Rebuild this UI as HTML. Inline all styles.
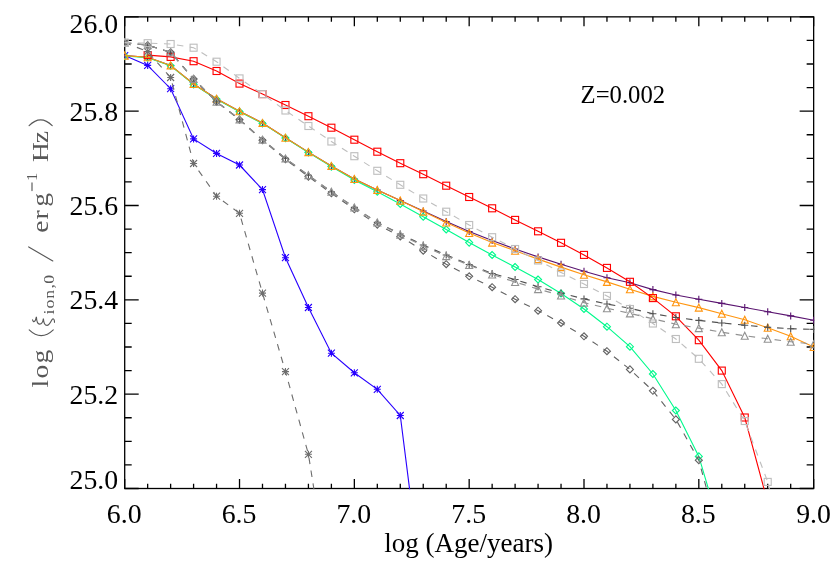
<!DOCTYPE html>
<html><head><meta charset="utf-8"><title>plot</title>
<style>
html,body{margin:0;padding:0;background:#fff;}
svg{display:block;font-family:"Liberation Serif",serif;}
</style></head>
<body>
<svg width="830" height="575" viewBox="0 0 830 575">
<rect width="830" height="575" fill="#fff"/>
<defs><clipPath id="c"><rect x="124.0" y="16.150000000000002" width="690.3499999999999" height="473.04999999999995"/></clipPath></defs>
<path d="M124.70 488.5v-9.5M124.70 16.85v9.5M147.66 488.5v-4.8M147.66 16.85v4.8M170.63 488.5v-4.8M170.63 16.85v4.8M193.59 488.5v-4.8M193.59 16.85v4.8M216.56 488.5v-4.8M216.56 16.85v4.8M239.52 488.5v-9.5M239.52 16.85v9.5M262.49 488.5v-4.8M262.49 16.85v4.8M285.46 488.5v-4.8M285.46 16.85v4.8M308.42 488.5v-4.8M308.42 16.85v4.8M331.39 488.5v-4.8M331.39 16.85v4.8M354.35 488.5v-9.5M354.35 16.85v9.5M377.31 488.5v-4.8M377.31 16.85v4.8M400.28 488.5v-4.8M400.28 16.85v4.8M423.24 488.5v-4.8M423.24 16.85v4.8M446.21 488.5v-4.8M446.21 16.85v4.8M469.17 488.5v-9.5M469.17 16.85v9.5M492.14 488.5v-4.8M492.14 16.85v4.8M515.11 488.5v-4.8M515.11 16.85v4.8M538.07 488.5v-4.8M538.07 16.85v4.8M561.04 488.5v-4.8M561.04 16.85v4.8M584.00 488.5v-9.5M584.00 16.85v9.5M606.96 488.5v-4.8M606.96 16.85v4.8M629.93 488.5v-4.8M629.93 16.85v4.8M652.90 488.5v-4.8M652.90 16.85v4.8M675.86 488.5v-4.8M675.86 16.85v4.8M698.82 488.5v-9.5M698.82 16.85v9.5M721.79 488.5v-4.8M721.79 16.85v4.8M744.75 488.5v-4.8M744.75 16.85v4.8M767.72 488.5v-4.8M767.72 16.85v4.8M790.69 488.5v-4.8M790.69 16.85v4.8M813.65 488.5v-9.5M813.65 16.85v9.5M124.7 16.85h14M813.65 16.85h-14M124.7 40.43h7M813.65 40.43h-7M124.7 64.02h7M813.65 64.02h-7M124.7 87.60h7M813.65 87.60h-7M124.7 111.18h14M813.65 111.18h-14M124.7 134.76h7M813.65 134.76h-7M124.7 158.34h7M813.65 158.34h-7M124.7 181.93h7M813.65 181.93h-7M124.7 205.51h14M813.65 205.51h-14M124.7 229.09h7M813.65 229.09h-7M124.7 252.67h7M813.65 252.67h-7M124.7 276.26h7M813.65 276.26h-7M124.7 299.84h14M813.65 299.84h-14M124.7 323.42h7M813.65 323.42h-7M124.7 347.00h7M813.65 347.00h-7M124.7 370.59h7M813.65 370.59h-7M124.7 394.17h14M813.65 394.17h-14M124.7 417.75h7M813.65 417.75h-7M124.7 441.33h7M813.65 441.33h-7M124.7 464.92h7M813.65 464.92h-7M124.7 488.50h14M813.65 488.50h-14" fill="none" stroke="#000" stroke-width="1.3"/>
<rect x="124.7" y="16.85" width="688.9499999999999" height="471.65" fill="none" stroke="#000" stroke-width="1.3"/>
<g clip-path="url(#c)">
<path d="M124.70 55.60L147.66 65.40L170.63 88.70L193.59 138.90L216.56 153.40L239.52 165.00L262.49 189.60L285.46 257.70L308.42 307.50L331.39 353.20L354.35 372.80L377.31 389.30L400.28 415.50L423.24 597.00" fill="none" stroke="#2800ff" stroke-width="1.12"/>
<path d="M121.20 55.60H128.20M124.70 52.10V59.10M121.20 52.10L128.20 59.10M121.20 59.10L128.20 52.10" fill="none" stroke="#2800ff" stroke-width="1.12"/>
<path d="M144.16 65.40H151.16M147.66 61.90V68.90M144.16 61.90L151.16 68.90M144.16 68.90L151.16 61.90" fill="none" stroke="#2800ff" stroke-width="1.12"/>
<path d="M167.13 88.70H174.13M170.63 85.20V92.20M167.13 85.20L174.13 92.20M167.13 92.20L174.13 85.20" fill="none" stroke="#2800ff" stroke-width="1.12"/>
<path d="M190.09 138.90H197.09M193.59 135.40V142.40M190.09 135.40L197.09 142.40M190.09 142.40L197.09 135.40" fill="none" stroke="#2800ff" stroke-width="1.12"/>
<path d="M213.06 153.40H220.06M216.56 149.90V156.90M213.06 149.90L220.06 156.90M213.06 156.90L220.06 149.90" fill="none" stroke="#2800ff" stroke-width="1.12"/>
<path d="M236.02 165.00H243.02M239.52 161.50V168.50M236.02 161.50L243.02 168.50M236.02 168.50L243.02 161.50" fill="none" stroke="#2800ff" stroke-width="1.12"/>
<path d="M258.99 189.60H265.99M262.49 186.10V193.10M258.99 186.10L265.99 193.10M258.99 193.10L265.99 186.10" fill="none" stroke="#2800ff" stroke-width="1.12"/>
<path d="M281.96 257.70H288.96M285.46 254.20V261.20M281.96 254.20L288.96 261.20M281.96 261.20L288.96 254.20" fill="none" stroke="#2800ff" stroke-width="1.12"/>
<path d="M304.92 307.50H311.92M308.42 304.00V311.00M304.92 304.00L311.92 311.00M304.92 311.00L311.92 304.00" fill="none" stroke="#2800ff" stroke-width="1.12"/>
<path d="M327.89 353.20H334.89M331.39 349.70V356.70M327.89 349.70L334.89 356.70M327.89 356.70L334.89 349.70" fill="none" stroke="#2800ff" stroke-width="1.12"/>
<path d="M350.85 372.80H357.85M354.35 369.30V376.30M350.85 369.30L357.85 376.30M350.85 376.30L357.85 369.30" fill="none" stroke="#2800ff" stroke-width="1.12"/>
<path d="M373.81 389.30H380.81M377.31 385.80V392.80M373.81 385.80L380.81 392.80M373.81 392.80L380.81 385.80" fill="none" stroke="#2800ff" stroke-width="1.12"/>
<path d="M396.78 415.50H403.78M400.28 412.00V419.00M396.78 412.00L403.78 419.00M396.78 419.00L403.78 412.00" fill="none" stroke="#2800ff" stroke-width="1.12"/>
<path d="M124.70 55.60L147.66 57.30L170.63 65.40L193.59 84.00L216.56 98.80L239.52 111.30L262.49 123.00L285.46 137.70L308.42 152.10L331.39 166.00L354.35 179.00L377.31 190.00L400.28 200.60L423.24 211.00L446.21 221.50L469.17 231.50L492.14 240.60L515.11 249.00L538.07 256.90L561.04 264.20L584.00 271.30L606.96 277.70L629.93 282.80L652.90 289.60L675.86 295.00L698.82 299.20L721.79 303.40L744.75 307.50L767.72 311.70L790.69 315.90L813.65 320.30" fill="none" stroke="#5a1470" stroke-width="1.12"/>
<path d="M121.20 55.60H128.20M124.70 52.10V59.10" fill="none" stroke="#5a1470" stroke-width="1.12"/>
<path d="M144.16 57.30H151.16M147.66 53.80V60.80" fill="none" stroke="#5a1470" stroke-width="1.12"/>
<path d="M167.13 65.40H174.13M170.63 61.90V68.90" fill="none" stroke="#5a1470" stroke-width="1.12"/>
<path d="M190.09 84.00H197.09M193.59 80.50V87.50" fill="none" stroke="#5a1470" stroke-width="1.12"/>
<path d="M213.06 98.80H220.06M216.56 95.30V102.30" fill="none" stroke="#5a1470" stroke-width="1.12"/>
<path d="M236.02 111.30H243.02M239.52 107.80V114.80" fill="none" stroke="#5a1470" stroke-width="1.12"/>
<path d="M258.99 123.00H265.99M262.49 119.50V126.50" fill="none" stroke="#5a1470" stroke-width="1.12"/>
<path d="M281.96 137.70H288.96M285.46 134.20V141.20" fill="none" stroke="#5a1470" stroke-width="1.12"/>
<path d="M304.92 152.10H311.92M308.42 148.60V155.60" fill="none" stroke="#5a1470" stroke-width="1.12"/>
<path d="M327.89 166.00H334.89M331.39 162.50V169.50" fill="none" stroke="#5a1470" stroke-width="1.12"/>
<path d="M350.85 179.00H357.85M354.35 175.50V182.50" fill="none" stroke="#5a1470" stroke-width="1.12"/>
<path d="M373.81 190.00H380.81M377.31 186.50V193.50" fill="none" stroke="#5a1470" stroke-width="1.12"/>
<path d="M396.78 200.60H403.78M400.28 197.10V204.10" fill="none" stroke="#5a1470" stroke-width="1.12"/>
<path d="M419.74 211.00H426.74M423.24 207.50V214.50" fill="none" stroke="#5a1470" stroke-width="1.12"/>
<path d="M442.71 221.50H449.71M446.21 218.00V225.00" fill="none" stroke="#5a1470" stroke-width="1.12"/>
<path d="M465.67 231.50H472.67M469.17 228.00V235.00" fill="none" stroke="#5a1470" stroke-width="1.12"/>
<path d="M488.64 240.60H495.64M492.14 237.10V244.10" fill="none" stroke="#5a1470" stroke-width="1.12"/>
<path d="M511.61 249.00H518.61M515.11 245.50V252.50" fill="none" stroke="#5a1470" stroke-width="1.12"/>
<path d="M534.57 256.90H541.57M538.07 253.40V260.40" fill="none" stroke="#5a1470" stroke-width="1.12"/>
<path d="M557.54 264.20H564.54M561.04 260.70V267.70" fill="none" stroke="#5a1470" stroke-width="1.12"/>
<path d="M580.50 271.30H587.50M584.00 267.80V274.80" fill="none" stroke="#5a1470" stroke-width="1.12"/>
<path d="M603.46 277.70H610.46M606.96 274.20V281.20" fill="none" stroke="#5a1470" stroke-width="1.12"/>
<path d="M626.43 282.80H633.43M629.93 279.30V286.30" fill="none" stroke="#5a1470" stroke-width="1.12"/>
<path d="M649.40 289.60H656.40M652.90 286.10V293.10" fill="none" stroke="#5a1470" stroke-width="1.12"/>
<path d="M672.36 295.00H679.36M675.86 291.50V298.50" fill="none" stroke="#5a1470" stroke-width="1.12"/>
<path d="M695.32 299.20H702.32M698.82 295.70V302.70" fill="none" stroke="#5a1470" stroke-width="1.12"/>
<path d="M718.29 303.40H725.29M721.79 299.90V306.90" fill="none" stroke="#5a1470" stroke-width="1.12"/>
<path d="M741.25 307.50H748.25M744.75 304.00V311.00" fill="none" stroke="#5a1470" stroke-width="1.12"/>
<path d="M764.22 311.70H771.22M767.72 308.20V315.20" fill="none" stroke="#5a1470" stroke-width="1.12"/>
<path d="M787.19 315.90H794.19M790.69 312.40V319.40" fill="none" stroke="#5a1470" stroke-width="1.12"/>
<path d="M810.15 320.30H817.15M813.65 316.80V323.80" fill="none" stroke="#5a1470" stroke-width="1.12"/>
<path d="M124.70 56.00L147.66 57.70L170.63 65.80L193.59 84.40L216.56 99.20L239.52 111.70L262.49 123.40L285.46 138.10L308.42 152.50L331.39 166.60L354.35 179.90L377.31 191.70L400.28 204.00L423.24 216.70L446.21 229.50L469.17 242.60L492.14 255.00L515.11 267.00L538.07 279.50L561.04 293.50L584.00 309.00L606.96 326.70L629.93 346.70L652.90 374.00L675.86 410.50L698.82 456.40L721.79 534.00" fill="none" stroke="#00fa8c" stroke-width="1.12"/>
<path d="M124.70 52.50L121.20 56.00L124.70 59.50L128.20 56.00Z" fill="none" stroke="#00fa8c" stroke-width="1.12"/>
<path d="M147.66 54.20L144.16 57.70L147.66 61.20L151.16 57.70Z" fill="none" stroke="#00fa8c" stroke-width="1.12"/>
<path d="M170.63 62.30L167.13 65.80L170.63 69.30L174.13 65.80Z" fill="none" stroke="#00fa8c" stroke-width="1.12"/>
<path d="M193.59 80.90L190.09 84.40L193.59 87.90L197.09 84.40Z" fill="none" stroke="#00fa8c" stroke-width="1.12"/>
<path d="M216.56 95.70L213.06 99.20L216.56 102.70L220.06 99.20Z" fill="none" stroke="#00fa8c" stroke-width="1.12"/>
<path d="M239.52 108.20L236.02 111.70L239.52 115.20L243.02 111.70Z" fill="none" stroke="#00fa8c" stroke-width="1.12"/>
<path d="M262.49 119.90L258.99 123.40L262.49 126.90L265.99 123.40Z" fill="none" stroke="#00fa8c" stroke-width="1.12"/>
<path d="M285.46 134.60L281.96 138.10L285.46 141.60L288.96 138.10Z" fill="none" stroke="#00fa8c" stroke-width="1.12"/>
<path d="M308.42 149.00L304.92 152.50L308.42 156.00L311.92 152.50Z" fill="none" stroke="#00fa8c" stroke-width="1.12"/>
<path d="M331.39 163.10L327.89 166.60L331.39 170.10L334.89 166.60Z" fill="none" stroke="#00fa8c" stroke-width="1.12"/>
<path d="M354.35 176.40L350.85 179.90L354.35 183.40L357.85 179.90Z" fill="none" stroke="#00fa8c" stroke-width="1.12"/>
<path d="M377.31 188.20L373.81 191.70L377.31 195.20L380.81 191.70Z" fill="none" stroke="#00fa8c" stroke-width="1.12"/>
<path d="M400.28 200.50L396.78 204.00L400.28 207.50L403.78 204.00Z" fill="none" stroke="#00fa8c" stroke-width="1.12"/>
<path d="M423.24 213.20L419.74 216.70L423.24 220.20L426.74 216.70Z" fill="none" stroke="#00fa8c" stroke-width="1.12"/>
<path d="M446.21 226.00L442.71 229.50L446.21 233.00L449.71 229.50Z" fill="none" stroke="#00fa8c" stroke-width="1.12"/>
<path d="M469.17 239.10L465.67 242.60L469.17 246.10L472.67 242.60Z" fill="none" stroke="#00fa8c" stroke-width="1.12"/>
<path d="M492.14 251.50L488.64 255.00L492.14 258.50L495.64 255.00Z" fill="none" stroke="#00fa8c" stroke-width="1.12"/>
<path d="M515.11 263.50L511.61 267.00L515.11 270.50L518.61 267.00Z" fill="none" stroke="#00fa8c" stroke-width="1.12"/>
<path d="M538.07 276.00L534.57 279.50L538.07 283.00L541.57 279.50Z" fill="none" stroke="#00fa8c" stroke-width="1.12"/>
<path d="M561.04 290.00L557.54 293.50L561.04 297.00L564.54 293.50Z" fill="none" stroke="#00fa8c" stroke-width="1.12"/>
<path d="M584.00 305.50L580.50 309.00L584.00 312.50L587.50 309.00Z" fill="none" stroke="#00fa8c" stroke-width="1.12"/>
<path d="M606.96 323.20L603.46 326.70L606.96 330.20L610.46 326.70Z" fill="none" stroke="#00fa8c" stroke-width="1.12"/>
<path d="M629.93 343.20L626.43 346.70L629.93 350.20L633.43 346.70Z" fill="none" stroke="#00fa8c" stroke-width="1.12"/>
<path d="M652.90 370.50L649.40 374.00L652.90 377.50L656.40 374.00Z" fill="none" stroke="#00fa8c" stroke-width="1.12"/>
<path d="M675.86 407.00L672.36 410.50L675.86 414.00L679.36 410.50Z" fill="none" stroke="#00fa8c" stroke-width="1.12"/>
<path d="M698.82 452.90L695.32 456.40L698.82 459.90L702.32 456.40Z" fill="none" stroke="#00fa8c" stroke-width="1.12"/>
<path d="M124.70 55.60L147.66 57.30L170.63 65.40L193.59 84.00L216.56 98.80L239.52 111.30L262.49 123.00L285.46 137.70L308.42 152.10L331.39 166.00L354.35 179.00L377.31 190.00L400.28 200.60L423.24 211.60L446.21 222.50L469.17 233.00L492.14 242.60L515.11 250.70L538.07 259.10L561.04 267.10L584.00 274.80L606.96 281.90L629.93 289.30L652.90 296.40L675.86 302.30L698.82 307.60L721.79 313.70L744.75 319.70L767.72 327.80L790.69 336.30L813.65 347.00" fill="none" stroke="#ff9510" stroke-width="1.12"/>
<path d="M124.70 52.10L121.20 59.10L128.20 59.10Z" fill="none" stroke="#ff9510" stroke-width="1.12"/>
<path d="M147.66 53.80L144.16 60.80L151.16 60.80Z" fill="none" stroke="#ff9510" stroke-width="1.12"/>
<path d="M170.63 61.90L167.13 68.90L174.13 68.90Z" fill="none" stroke="#ff9510" stroke-width="1.12"/>
<path d="M193.59 80.50L190.09 87.50L197.09 87.50Z" fill="none" stroke="#ff9510" stroke-width="1.12"/>
<path d="M216.56 95.30L213.06 102.30L220.06 102.30Z" fill="none" stroke="#ff9510" stroke-width="1.12"/>
<path d="M239.52 107.80L236.02 114.80L243.02 114.80Z" fill="none" stroke="#ff9510" stroke-width="1.12"/>
<path d="M262.49 119.50L258.99 126.50L265.99 126.50Z" fill="none" stroke="#ff9510" stroke-width="1.12"/>
<path d="M285.46 134.20L281.96 141.20L288.96 141.20Z" fill="none" stroke="#ff9510" stroke-width="1.12"/>
<path d="M308.42 148.60L304.92 155.60L311.92 155.60Z" fill="none" stroke="#ff9510" stroke-width="1.12"/>
<path d="M331.39 162.50L327.89 169.50L334.89 169.50Z" fill="none" stroke="#ff9510" stroke-width="1.12"/>
<path d="M354.35 175.50L350.85 182.50L357.85 182.50Z" fill="none" stroke="#ff9510" stroke-width="1.12"/>
<path d="M377.31 186.50L373.81 193.50L380.81 193.50Z" fill="none" stroke="#ff9510" stroke-width="1.12"/>
<path d="M400.28 197.10L396.78 204.10L403.78 204.10Z" fill="none" stroke="#ff9510" stroke-width="1.12"/>
<path d="M423.24 208.10L419.74 215.10L426.74 215.10Z" fill="none" stroke="#ff9510" stroke-width="1.12"/>
<path d="M446.21 219.00L442.71 226.00L449.71 226.00Z" fill="none" stroke="#ff9510" stroke-width="1.12"/>
<path d="M469.17 229.50L465.67 236.50L472.67 236.50Z" fill="none" stroke="#ff9510" stroke-width="1.12"/>
<path d="M492.14 239.10L488.64 246.10L495.64 246.10Z" fill="none" stroke="#ff9510" stroke-width="1.12"/>
<path d="M515.11 247.20L511.61 254.20L518.61 254.20Z" fill="none" stroke="#ff9510" stroke-width="1.12"/>
<path d="M538.07 255.60L534.57 262.60L541.57 262.60Z" fill="none" stroke="#ff9510" stroke-width="1.12"/>
<path d="M561.04 263.60L557.54 270.60L564.54 270.60Z" fill="none" stroke="#ff9510" stroke-width="1.12"/>
<path d="M584.00 271.30L580.50 278.30L587.50 278.30Z" fill="none" stroke="#ff9510" stroke-width="1.12"/>
<path d="M606.96 278.40L603.46 285.40L610.46 285.40Z" fill="none" stroke="#ff9510" stroke-width="1.12"/>
<path d="M629.93 285.80L626.43 292.80L633.43 292.80Z" fill="none" stroke="#ff9510" stroke-width="1.12"/>
<path d="M652.90 292.90L649.40 299.90L656.40 299.90Z" fill="none" stroke="#ff9510" stroke-width="1.12"/>
<path d="M675.86 298.80L672.36 305.80L679.36 305.80Z" fill="none" stroke="#ff9510" stroke-width="1.12"/>
<path d="M698.82 304.10L695.32 311.10L702.32 311.10Z" fill="none" stroke="#ff9510" stroke-width="1.12"/>
<path d="M721.79 310.20L718.29 317.20L725.29 317.20Z" fill="none" stroke="#ff9510" stroke-width="1.12"/>
<path d="M744.75 316.20L741.25 323.20L748.25 323.20Z" fill="none" stroke="#ff9510" stroke-width="1.12"/>
<path d="M767.72 324.30L764.22 331.30L771.22 331.30Z" fill="none" stroke="#ff9510" stroke-width="1.12"/>
<path d="M790.69 332.80L787.19 339.80L794.19 339.80Z" fill="none" stroke="#ff9510" stroke-width="1.12"/>
<path d="M813.65 343.50L810.15 350.50L817.15 350.50Z" fill="none" stroke="#ff9510" stroke-width="1.12"/>
<path d="M147.66 55.10L170.63 56.90L193.59 61.20L216.56 71.00L239.52 83.60L262.49 94.10L285.46 105.00L308.42 116.20L331.39 127.70L354.35 139.70L377.31 151.70L400.28 163.20L423.24 174.20L446.21 185.70L469.17 197.00L492.14 208.30L515.11 219.90L538.07 231.30L561.04 242.80L584.00 254.90L606.96 267.90L629.93 281.80L652.90 298.10L675.86 316.30L698.82 340.20L721.79 370.60L744.75 417.50L767.72 502.50" fill="none" stroke="#ff0000" stroke-width="1.12"/>
<rect x="144.16" y="51.60" width="7.00" height="7.00" fill="none" stroke="#ff0000" stroke-width="1.12"/>
<rect x="167.13" y="53.40" width="7.00" height="7.00" fill="none" stroke="#ff0000" stroke-width="1.12"/>
<rect x="190.09" y="57.70" width="7.00" height="7.00" fill="none" stroke="#ff0000" stroke-width="1.12"/>
<rect x="213.06" y="67.50" width="7.00" height="7.00" fill="none" stroke="#ff0000" stroke-width="1.12"/>
<rect x="236.02" y="80.10" width="7.00" height="7.00" fill="none" stroke="#ff0000" stroke-width="1.12"/>
<rect x="258.99" y="90.60" width="7.00" height="7.00" fill="none" stroke="#ff0000" stroke-width="1.12"/>
<rect x="281.96" y="101.50" width="7.00" height="7.00" fill="none" stroke="#ff0000" stroke-width="1.12"/>
<rect x="304.92" y="112.70" width="7.00" height="7.00" fill="none" stroke="#ff0000" stroke-width="1.12"/>
<rect x="327.89" y="124.20" width="7.00" height="7.00" fill="none" stroke="#ff0000" stroke-width="1.12"/>
<rect x="350.85" y="136.20" width="7.00" height="7.00" fill="none" stroke="#ff0000" stroke-width="1.12"/>
<rect x="373.81" y="148.20" width="7.00" height="7.00" fill="none" stroke="#ff0000" stroke-width="1.12"/>
<rect x="396.78" y="159.70" width="7.00" height="7.00" fill="none" stroke="#ff0000" stroke-width="1.12"/>
<rect x="419.74" y="170.70" width="7.00" height="7.00" fill="none" stroke="#ff0000" stroke-width="1.12"/>
<rect x="442.71" y="182.20" width="7.00" height="7.00" fill="none" stroke="#ff0000" stroke-width="1.12"/>
<rect x="465.67" y="193.50" width="7.00" height="7.00" fill="none" stroke="#ff0000" stroke-width="1.12"/>
<rect x="488.64" y="204.80" width="7.00" height="7.00" fill="none" stroke="#ff0000" stroke-width="1.12"/>
<rect x="511.61" y="216.40" width="7.00" height="7.00" fill="none" stroke="#ff0000" stroke-width="1.12"/>
<rect x="534.57" y="227.80" width="7.00" height="7.00" fill="none" stroke="#ff0000" stroke-width="1.12"/>
<rect x="557.54" y="239.30" width="7.00" height="7.00" fill="none" stroke="#ff0000" stroke-width="1.12"/>
<rect x="580.50" y="251.40" width="7.00" height="7.00" fill="none" stroke="#ff0000" stroke-width="1.12"/>
<rect x="603.46" y="264.40" width="7.00" height="7.00" fill="none" stroke="#ff0000" stroke-width="1.12"/>
<rect x="626.43" y="278.30" width="7.00" height="7.00" fill="none" stroke="#ff0000" stroke-width="1.12"/>
<rect x="649.40" y="294.60" width="7.00" height="7.00" fill="none" stroke="#ff0000" stroke-width="1.12"/>
<rect x="672.36" y="312.80" width="7.00" height="7.00" fill="none" stroke="#ff0000" stroke-width="1.12"/>
<rect x="695.32" y="336.70" width="7.00" height="7.00" fill="none" stroke="#ff0000" stroke-width="1.12"/>
<rect x="718.29" y="367.10" width="7.00" height="7.00" fill="none" stroke="#ff0000" stroke-width="1.12"/>
<rect x="741.25" y="414.00" width="7.00" height="7.00" fill="none" stroke="#ff0000" stroke-width="1.12"/>
<path d="M124.70 42.60L147.66 51.60L170.63 77.50L193.59 163.50L216.56 196.20L239.52 213.30L262.49 293.10L285.46 371.60L308.42 454.30L331.39 600.00" fill="none" stroke="#6e6e6e" stroke-width="1.12" stroke-dasharray="6.54 6.54"/>
<path d="M121.20 42.60H128.20M124.70 39.10V46.10M121.20 39.10L128.20 46.10M121.20 46.10L128.20 39.10" fill="none" stroke="#6e6e6e" stroke-width="1.12"/>
<path d="M144.16 51.60H151.16M147.66 48.10V55.10M144.16 48.10L151.16 55.10M144.16 55.10L151.16 48.10" fill="none" stroke="#6e6e6e" stroke-width="1.12"/>
<path d="M167.13 77.50H174.13M170.63 74.00V81.00M167.13 74.00L174.13 81.00M167.13 81.00L174.13 74.00" fill="none" stroke="#6e6e6e" stroke-width="1.12"/>
<path d="M190.09 163.50H197.09M193.59 160.00V167.00M190.09 160.00L197.09 167.00M190.09 167.00L197.09 160.00" fill="none" stroke="#6e6e6e" stroke-width="1.12"/>
<path d="M213.06 196.20H220.06M216.56 192.70V199.70M213.06 192.70L220.06 199.70M213.06 199.70L220.06 192.70" fill="none" stroke="#6e6e6e" stroke-width="1.12"/>
<path d="M236.02 213.30H243.02M239.52 209.80V216.80M236.02 209.80L243.02 216.80M236.02 216.80L243.02 209.80" fill="none" stroke="#6e6e6e" stroke-width="1.12"/>
<path d="M258.99 293.10H265.99M262.49 289.60V296.60M258.99 289.60L265.99 296.60M258.99 296.60L265.99 289.60" fill="none" stroke="#6e6e6e" stroke-width="1.12"/>
<path d="M281.96 371.60H288.96M285.46 368.10V375.10M281.96 368.10L288.96 375.10M281.96 375.10L288.96 368.10" fill="none" stroke="#6e6e6e" stroke-width="1.12"/>
<path d="M304.92 454.30H311.92M308.42 450.80V457.80M304.92 450.80L311.92 457.80M304.92 457.80L311.92 450.80" fill="none" stroke="#6e6e6e" stroke-width="1.12"/>
<path d="M124.70 42.60L147.66 45.20L170.63 52.30L193.59 78.90L216.56 101.70L239.52 119.40L262.49 139.70L285.46 158.40L308.42 175.30L331.39 191.70L354.35 207.40L377.31 222.40L400.28 234.00L423.24 245.00L446.21 255.00L469.17 264.50L492.14 273.50L515.11 279.50L538.07 286.80L561.04 293.00L584.00 298.90L606.96 304.00L629.93 308.30L652.90 313.70L675.86 317.50L698.82 320.40L721.79 323.00L744.75 325.20L767.72 327.30L790.69 328.70L813.65 329.40" fill="none" stroke="#505050" stroke-width="1.12" stroke-dasharray="6.54 6.54"/>
<path d="M121.20 42.60H128.20M124.70 39.10V46.10" fill="none" stroke="#505050" stroke-width="1.12"/>
<path d="M144.16 45.20H151.16M147.66 41.70V48.70" fill="none" stroke="#505050" stroke-width="1.12"/>
<path d="M167.13 52.30H174.13M170.63 48.80V55.80" fill="none" stroke="#505050" stroke-width="1.12"/>
<path d="M190.09 78.90H197.09M193.59 75.40V82.40" fill="none" stroke="#505050" stroke-width="1.12"/>
<path d="M213.06 101.70H220.06M216.56 98.20V105.20" fill="none" stroke="#505050" stroke-width="1.12"/>
<path d="M236.02 119.40H243.02M239.52 115.90V122.90" fill="none" stroke="#505050" stroke-width="1.12"/>
<path d="M258.99 139.70H265.99M262.49 136.20V143.20" fill="none" stroke="#505050" stroke-width="1.12"/>
<path d="M281.96 158.40H288.96M285.46 154.90V161.90" fill="none" stroke="#505050" stroke-width="1.12"/>
<path d="M304.92 175.30H311.92M308.42 171.80V178.80" fill="none" stroke="#505050" stroke-width="1.12"/>
<path d="M327.89 191.70H334.89M331.39 188.20V195.20" fill="none" stroke="#505050" stroke-width="1.12"/>
<path d="M350.85 207.40H357.85M354.35 203.90V210.90" fill="none" stroke="#505050" stroke-width="1.12"/>
<path d="M373.81 222.40H380.81M377.31 218.90V225.90" fill="none" stroke="#505050" stroke-width="1.12"/>
<path d="M396.78 234.00H403.78M400.28 230.50V237.50" fill="none" stroke="#505050" stroke-width="1.12"/>
<path d="M419.74 245.00H426.74M423.24 241.50V248.50" fill="none" stroke="#505050" stroke-width="1.12"/>
<path d="M442.71 255.00H449.71M446.21 251.50V258.50" fill="none" stroke="#505050" stroke-width="1.12"/>
<path d="M465.67 264.50H472.67M469.17 261.00V268.00" fill="none" stroke="#505050" stroke-width="1.12"/>
<path d="M488.64 273.50H495.64M492.14 270.00V277.00" fill="none" stroke="#505050" stroke-width="1.12"/>
<path d="M511.61 279.50H518.61M515.11 276.00V283.00" fill="none" stroke="#505050" stroke-width="1.12"/>
<path d="M534.57 286.80H541.57M538.07 283.30V290.30" fill="none" stroke="#505050" stroke-width="1.12"/>
<path d="M557.54 293.00H564.54M561.04 289.50V296.50" fill="none" stroke="#505050" stroke-width="1.12"/>
<path d="M580.50 298.90H587.50M584.00 295.40V302.40" fill="none" stroke="#505050" stroke-width="1.12"/>
<path d="M603.46 304.00H610.46M606.96 300.50V307.50" fill="none" stroke="#505050" stroke-width="1.12"/>
<path d="M626.43 308.30H633.43M629.93 304.80V311.80" fill="none" stroke="#505050" stroke-width="1.12"/>
<path d="M649.40 313.70H656.40M652.90 310.20V317.20" fill="none" stroke="#505050" stroke-width="1.12"/>
<path d="M672.36 317.50H679.36M675.86 314.00V321.00" fill="none" stroke="#505050" stroke-width="1.12"/>
<path d="M695.32 320.40H702.32M698.82 316.90V323.90" fill="none" stroke="#505050" stroke-width="1.12"/>
<path d="M718.29 323.00H725.29M721.79 319.50V326.50" fill="none" stroke="#505050" stroke-width="1.12"/>
<path d="M741.25 325.20H748.25M744.75 321.70V328.70" fill="none" stroke="#505050" stroke-width="1.12"/>
<path d="M764.22 327.30H771.22M767.72 323.80V330.80" fill="none" stroke="#505050" stroke-width="1.12"/>
<path d="M787.19 328.70H794.19M790.69 325.20V332.20" fill="none" stroke="#505050" stroke-width="1.12"/>
<path d="M810.15 329.40H817.15M813.65 325.90V332.90" fill="none" stroke="#505050" stroke-width="1.12"/>
<path d="M124.70 42.60L147.66 45.20L170.63 52.30L193.59 78.90L216.56 101.70L239.52 119.70L262.49 140.30L285.46 159.30L308.42 176.60L331.39 193.30L354.35 209.30L377.31 224.60L400.28 236.40L423.24 250.70L446.21 264.20L469.17 276.30L492.14 287.20L515.11 299.20L538.07 310.70L561.04 323.00L584.00 336.30L606.96 351.20L629.93 369.40L652.90 390.80L675.86 419.40L698.82 460.20L721.79 545.00" fill="none" stroke="#636363" stroke-width="1.12" stroke-dasharray="6.54 6.54"/>
<path d="M124.70 39.10L121.20 42.60L124.70 46.10L128.20 42.60Z" fill="none" stroke="#636363" stroke-width="1.12"/>
<path d="M147.66 41.70L144.16 45.20L147.66 48.70L151.16 45.20Z" fill="none" stroke="#636363" stroke-width="1.12"/>
<path d="M170.63 48.80L167.13 52.30L170.63 55.80L174.13 52.30Z" fill="none" stroke="#636363" stroke-width="1.12"/>
<path d="M193.59 75.40L190.09 78.90L193.59 82.40L197.09 78.90Z" fill="none" stroke="#636363" stroke-width="1.12"/>
<path d="M216.56 98.20L213.06 101.70L216.56 105.20L220.06 101.70Z" fill="none" stroke="#636363" stroke-width="1.12"/>
<path d="M239.52 116.20L236.02 119.70L239.52 123.20L243.02 119.70Z" fill="none" stroke="#636363" stroke-width="1.12"/>
<path d="M262.49 136.80L258.99 140.30L262.49 143.80L265.99 140.30Z" fill="none" stroke="#636363" stroke-width="1.12"/>
<path d="M285.46 155.80L281.96 159.30L285.46 162.80L288.96 159.30Z" fill="none" stroke="#636363" stroke-width="1.12"/>
<path d="M308.42 173.10L304.92 176.60L308.42 180.10L311.92 176.60Z" fill="none" stroke="#636363" stroke-width="1.12"/>
<path d="M331.39 189.80L327.89 193.30L331.39 196.80L334.89 193.30Z" fill="none" stroke="#636363" stroke-width="1.12"/>
<path d="M354.35 205.80L350.85 209.30L354.35 212.80L357.85 209.30Z" fill="none" stroke="#636363" stroke-width="1.12"/>
<path d="M377.31 221.10L373.81 224.60L377.31 228.10L380.81 224.60Z" fill="none" stroke="#636363" stroke-width="1.12"/>
<path d="M400.28 232.90L396.78 236.40L400.28 239.90L403.78 236.40Z" fill="none" stroke="#636363" stroke-width="1.12"/>
<path d="M423.24 247.20L419.74 250.70L423.24 254.20L426.74 250.70Z" fill="none" stroke="#636363" stroke-width="1.12"/>
<path d="M446.21 260.70L442.71 264.20L446.21 267.70L449.71 264.20Z" fill="none" stroke="#636363" stroke-width="1.12"/>
<path d="M469.17 272.80L465.67 276.30L469.17 279.80L472.67 276.30Z" fill="none" stroke="#636363" stroke-width="1.12"/>
<path d="M492.14 283.70L488.64 287.20L492.14 290.70L495.64 287.20Z" fill="none" stroke="#636363" stroke-width="1.12"/>
<path d="M515.11 295.70L511.61 299.20L515.11 302.70L518.61 299.20Z" fill="none" stroke="#636363" stroke-width="1.12"/>
<path d="M538.07 307.20L534.57 310.70L538.07 314.20L541.57 310.70Z" fill="none" stroke="#636363" stroke-width="1.12"/>
<path d="M561.04 319.50L557.54 323.00L561.04 326.50L564.54 323.00Z" fill="none" stroke="#636363" stroke-width="1.12"/>
<path d="M584.00 332.80L580.50 336.30L584.00 339.80L587.50 336.30Z" fill="none" stroke="#636363" stroke-width="1.12"/>
<path d="M606.96 347.70L603.46 351.20L606.96 354.70L610.46 351.20Z" fill="none" stroke="#636363" stroke-width="1.12"/>
<path d="M629.93 365.90L626.43 369.40L629.93 372.90L633.43 369.40Z" fill="none" stroke="#636363" stroke-width="1.12"/>
<path d="M652.90 387.30L649.40 390.80L652.90 394.30L656.40 390.80Z" fill="none" stroke="#636363" stroke-width="1.12"/>
<path d="M675.86 415.90L672.36 419.40L675.86 422.90L679.36 419.40Z" fill="none" stroke="#636363" stroke-width="1.12"/>
<path d="M698.82 456.70L695.32 460.20L698.82 463.70L702.32 460.20Z" fill="none" stroke="#636363" stroke-width="1.12"/>
<path d="M124.70 42.60L147.66 45.20L170.63 52.30L193.59 78.90L216.56 101.70L239.52 119.40L262.49 139.70L285.46 158.40L308.42 175.30L331.39 191.70L354.35 207.40L377.31 222.40L400.28 234.70L423.24 246.00L446.21 256.10L469.17 265.00L492.14 274.50L515.11 282.00L538.07 289.10L561.04 295.50L584.00 302.60L606.96 308.20L629.93 313.40L652.90 318.80L675.86 324.20L698.82 328.10L721.79 332.20L744.75 335.80L767.72 338.80L790.69 341.70L813.65 344.20" fill="none" stroke="#929292" stroke-width="1.12" stroke-dasharray="6.54 6.54"/>
<path d="M124.70 39.10L121.20 46.10L128.20 46.10Z" fill="none" stroke="#929292" stroke-width="1.12"/>
<path d="M147.66 41.70L144.16 48.70L151.16 48.70Z" fill="none" stroke="#929292" stroke-width="1.12"/>
<path d="M170.63 48.80L167.13 55.80L174.13 55.80Z" fill="none" stroke="#929292" stroke-width="1.12"/>
<path d="M193.59 75.40L190.09 82.40L197.09 82.40Z" fill="none" stroke="#929292" stroke-width="1.12"/>
<path d="M216.56 98.20L213.06 105.20L220.06 105.20Z" fill="none" stroke="#929292" stroke-width="1.12"/>
<path d="M239.52 115.90L236.02 122.90L243.02 122.90Z" fill="none" stroke="#929292" stroke-width="1.12"/>
<path d="M262.49 136.20L258.99 143.20L265.99 143.20Z" fill="none" stroke="#929292" stroke-width="1.12"/>
<path d="M285.46 154.90L281.96 161.90L288.96 161.90Z" fill="none" stroke="#929292" stroke-width="1.12"/>
<path d="M308.42 171.80L304.92 178.80L311.92 178.80Z" fill="none" stroke="#929292" stroke-width="1.12"/>
<path d="M331.39 188.20L327.89 195.20L334.89 195.20Z" fill="none" stroke="#929292" stroke-width="1.12"/>
<path d="M354.35 203.90L350.85 210.90L357.85 210.90Z" fill="none" stroke="#929292" stroke-width="1.12"/>
<path d="M377.31 218.90L373.81 225.90L380.81 225.90Z" fill="none" stroke="#929292" stroke-width="1.12"/>
<path d="M400.28 231.20L396.78 238.20L403.78 238.20Z" fill="none" stroke="#929292" stroke-width="1.12"/>
<path d="M423.24 242.50L419.74 249.50L426.74 249.50Z" fill="none" stroke="#929292" stroke-width="1.12"/>
<path d="M446.21 252.60L442.71 259.60L449.71 259.60Z" fill="none" stroke="#929292" stroke-width="1.12"/>
<path d="M469.17 261.50L465.67 268.50L472.67 268.50Z" fill="none" stroke="#929292" stroke-width="1.12"/>
<path d="M492.14 271.00L488.64 278.00L495.64 278.00Z" fill="none" stroke="#929292" stroke-width="1.12"/>
<path d="M515.11 278.50L511.61 285.50L518.61 285.50Z" fill="none" stroke="#929292" stroke-width="1.12"/>
<path d="M538.07 285.60L534.57 292.60L541.57 292.60Z" fill="none" stroke="#929292" stroke-width="1.12"/>
<path d="M561.04 292.00L557.54 299.00L564.54 299.00Z" fill="none" stroke="#929292" stroke-width="1.12"/>
<path d="M584.00 299.10L580.50 306.10L587.50 306.10Z" fill="none" stroke="#929292" stroke-width="1.12"/>
<path d="M606.96 304.70L603.46 311.70L610.46 311.70Z" fill="none" stroke="#929292" stroke-width="1.12"/>
<path d="M629.93 309.90L626.43 316.90L633.43 316.90Z" fill="none" stroke="#929292" stroke-width="1.12"/>
<path d="M652.90 315.30L649.40 322.30L656.40 322.30Z" fill="none" stroke="#929292" stroke-width="1.12"/>
<path d="M675.86 320.70L672.36 327.70L679.36 327.70Z" fill="none" stroke="#929292" stroke-width="1.12"/>
<path d="M698.82 324.60L695.32 331.60L702.32 331.60Z" fill="none" stroke="#929292" stroke-width="1.12"/>
<path d="M721.79 328.70L718.29 335.70L725.29 335.70Z" fill="none" stroke="#929292" stroke-width="1.12"/>
<path d="M744.75 332.30L741.25 339.30L748.25 339.30Z" fill="none" stroke="#929292" stroke-width="1.12"/>
<path d="M767.72 335.30L764.22 342.30L771.22 342.30Z" fill="none" stroke="#929292" stroke-width="1.12"/>
<path d="M790.69 338.20L787.19 345.20L794.19 345.20Z" fill="none" stroke="#929292" stroke-width="1.12"/>
<path d="M813.65 340.70L810.15 347.70L817.15 347.70Z" fill="none" stroke="#929292" stroke-width="1.12"/>
<path d="M124.70 42.60L147.66 43.20L170.63 44.00L193.59 47.70L216.56 61.70L239.52 78.40L262.49 94.10L285.46 110.50L308.42 126.00L331.39 141.50L354.35 156.20L377.31 170.80L400.28 184.80L423.24 198.50L446.21 211.70L469.17 225.00L492.14 237.20L515.11 249.00L538.07 260.50L561.04 272.50L584.00 284.00L606.96 295.90L629.93 309.00L652.90 323.50L675.86 339.00L698.82 358.80L721.79 384.10L744.75 421.00L767.72 481.90L790.69 580.00" fill="none" stroke="#bebebe" stroke-width="1.12" stroke-dasharray="6.54 6.54"/>
<rect x="121.20" y="39.10" width="7.00" height="7.00" fill="none" stroke="#bebebe" stroke-width="1.12"/>
<rect x="144.16" y="39.70" width="7.00" height="7.00" fill="none" stroke="#bebebe" stroke-width="1.12"/>
<rect x="167.13" y="40.50" width="7.00" height="7.00" fill="none" stroke="#bebebe" stroke-width="1.12"/>
<rect x="190.09" y="44.20" width="7.00" height="7.00" fill="none" stroke="#bebebe" stroke-width="1.12"/>
<rect x="213.06" y="58.20" width="7.00" height="7.00" fill="none" stroke="#bebebe" stroke-width="1.12"/>
<rect x="236.02" y="74.90" width="7.00" height="7.00" fill="none" stroke="#bebebe" stroke-width="1.12"/>
<rect x="258.99" y="90.60" width="7.00" height="7.00" fill="none" stroke="#bebebe" stroke-width="1.12"/>
<rect x="281.96" y="107.00" width="7.00" height="7.00" fill="none" stroke="#bebebe" stroke-width="1.12"/>
<rect x="304.92" y="122.50" width="7.00" height="7.00" fill="none" stroke="#bebebe" stroke-width="1.12"/>
<rect x="327.89" y="138.00" width="7.00" height="7.00" fill="none" stroke="#bebebe" stroke-width="1.12"/>
<rect x="350.85" y="152.70" width="7.00" height="7.00" fill="none" stroke="#bebebe" stroke-width="1.12"/>
<rect x="373.81" y="167.30" width="7.00" height="7.00" fill="none" stroke="#bebebe" stroke-width="1.12"/>
<rect x="396.78" y="181.30" width="7.00" height="7.00" fill="none" stroke="#bebebe" stroke-width="1.12"/>
<rect x="419.74" y="195.00" width="7.00" height="7.00" fill="none" stroke="#bebebe" stroke-width="1.12"/>
<rect x="442.71" y="208.20" width="7.00" height="7.00" fill="none" stroke="#bebebe" stroke-width="1.12"/>
<rect x="465.67" y="221.50" width="7.00" height="7.00" fill="none" stroke="#bebebe" stroke-width="1.12"/>
<rect x="488.64" y="233.70" width="7.00" height="7.00" fill="none" stroke="#bebebe" stroke-width="1.12"/>
<rect x="511.61" y="245.50" width="7.00" height="7.00" fill="none" stroke="#bebebe" stroke-width="1.12"/>
<rect x="534.57" y="257.00" width="7.00" height="7.00" fill="none" stroke="#bebebe" stroke-width="1.12"/>
<rect x="557.54" y="269.00" width="7.00" height="7.00" fill="none" stroke="#bebebe" stroke-width="1.12"/>
<rect x="580.50" y="280.50" width="7.00" height="7.00" fill="none" stroke="#bebebe" stroke-width="1.12"/>
<rect x="603.46" y="292.40" width="7.00" height="7.00" fill="none" stroke="#bebebe" stroke-width="1.12"/>
<rect x="626.43" y="305.50" width="7.00" height="7.00" fill="none" stroke="#bebebe" stroke-width="1.12"/>
<rect x="649.40" y="320.00" width="7.00" height="7.00" fill="none" stroke="#bebebe" stroke-width="1.12"/>
<rect x="672.36" y="335.50" width="7.00" height="7.00" fill="none" stroke="#bebebe" stroke-width="1.12"/>
<rect x="695.32" y="355.30" width="7.00" height="7.00" fill="none" stroke="#bebebe" stroke-width="1.12"/>
<rect x="718.29" y="380.60" width="7.00" height="7.00" fill="none" stroke="#bebebe" stroke-width="1.12"/>
<rect x="741.25" y="417.50" width="7.00" height="7.00" fill="none" stroke="#bebebe" stroke-width="1.12"/>
<rect x="764.22" y="478.40" width="7.00" height="7.00" fill="none" stroke="#bebebe" stroke-width="1.12"/>
</g>
<g fill="#000" style="filter:grayscale(1)">
<text x="118.2" y="32.5" text-anchor="end" font-size="27.8">26.0</text>
<text x="118.2" y="120.5" text-anchor="end" font-size="27.8">25.8</text>
<text x="118.2" y="215.0" text-anchor="end" font-size="27.8">25.6</text>
<text x="118.2" y="309.4" text-anchor="end" font-size="27.8">25.4</text>
<text x="118.2" y="403.8" text-anchor="end" font-size="27.8">25.2</text>
<text x="118.2" y="489.2" text-anchor="end" font-size="27.8">25.0</text>
<text x="124.2" y="522.7" text-anchor="middle" font-size="27.8">6.0</text>
<text x="239.0" y="522.7" text-anchor="middle" font-size="27.8">6.5</text>
<text x="353.8" y="522.7" text-anchor="middle" font-size="27.8">7.0</text>
<text x="468.7" y="522.7" text-anchor="middle" font-size="27.8">7.5</text>
<text x="583.5" y="522.7" text-anchor="middle" font-size="27.8">8.0</text>
<text x="698.3" y="522.7" text-anchor="middle" font-size="27.8">8.5</text>
<text x="813.6" y="522.7" text-anchor="middle" font-size="27.8">9.0</text>
<text x="468.7" y="551.5" text-anchor="middle" font-size="27">log (Age/years)</text>
<text x="580.6" y="103.3" font-size="24.7">Z=0.002</text>
<text transform="rotate(-90) translate(-383.6,48.0) scale(1.17,1)" text-anchor="middle" font-size="23.6" fill="#585858">l</text>
<text transform="rotate(-90) translate(-371.5,48.0) scale(1.17,1)" text-anchor="middle" font-size="23.6" fill="#585858">o</text>
<text transform="rotate(-90) translate(-356.5,48.0) scale(1.17,1)" text-anchor="middle" font-size="23.6" fill="#585858">g</text>
<text transform="rotate(-90) translate(-312.0,54.2) scale(1.17,1)" text-anchor="middle" font-size="15.2" fill="#585858">i</text>
<text transform="rotate(-90) translate(-304.0,54.2) scale(1.17,1)" text-anchor="middle" font-size="15.2" fill="#585858">o</text>
<text transform="rotate(-90) translate(-294.4,54.2) scale(1.17,1)" text-anchor="middle" font-size="15.2" fill="#585858">n</text>
<text transform="rotate(-90) translate(-286.3,54.2) scale(1.17,1)" text-anchor="middle" font-size="15.2" fill="#585858">,</text>
<text transform="rotate(-90) translate(-279.4,54.2) scale(1.17,1)" text-anchor="middle" font-size="15.2" fill="#585858">0</text>
<text transform="rotate(-90) translate(-226.5,48.0) scale(1.17,1)" text-anchor="middle" font-size="23.6" fill="#585858">e</text>
<text transform="rotate(-90) translate(-215.0,48.0) scale(1.17,1)" text-anchor="middle" font-size="23.6" fill="#585858">r</text>
<text transform="rotate(-90) translate(-199.8,48.0) scale(1.17,1)" text-anchor="middle" font-size="23.6" fill="#585858">g</text>
<text transform="rotate(-90) translate(-176.8,36.5) scale(1.17,1)" text-anchor="middle" font-size="14" fill="#585858">1</text>
<text transform="rotate(-90) translate(-152.0,48.0) scale(1.17,1)" text-anchor="middle" font-size="23.6" fill="#585858">H</text>
<text transform="rotate(-90) translate(-137.0,48.0) scale(1.17,1)" text-anchor="middle" font-size="23.6" fill="#585858">z</text>
<path d="M29.2 329.8Q41.2 341.4 53.3 329.8M29.1 125.6Q40.6 114 52.2 125.6M52.8 260.9L28.7 246.9M32 182.9V190.6M32.6 319.8C33.2 322.4 35.2 322.8 36.4 316.9C36.6 321 37.6 324.2 39.7 324.1C41.8 324 43 321.5 43.4 318.5C43.6 322.5 44.8 325.4 47 325.4C49.6 325.4 51 321 52.2 319.3C53.3 318 54.6 319.5 54.5 322.3" fill="none" stroke="#585858" stroke-width="1.15" stroke-linecap="round"/>
</g>
</svg>
</body></html>
